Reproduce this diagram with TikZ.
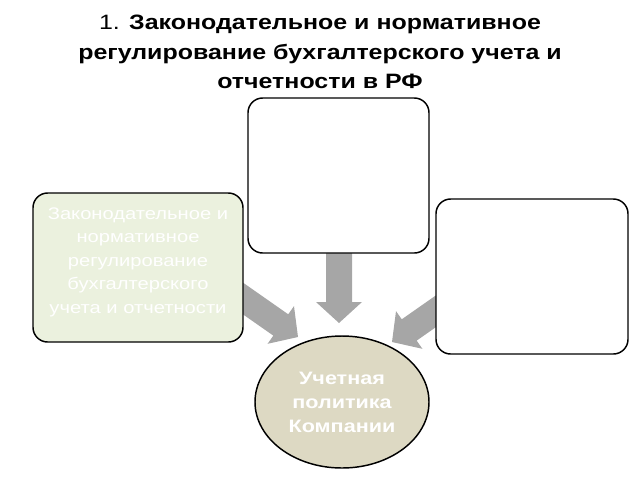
\documentclass[tikz,border=0pt]{standalone}
\usepackage{fontspec}
\setmainfont{Liberation Sans}[FakeStretch=1.2]
\usetikzlibrary{calc,shapes.geometric}
\definecolor{arrowgrey}{HTML}{A6A6A6}
\definecolor{greenfill}{HTML}{EBF1DE}
\definecolor{beige}{HTML}{DDD9C3}
\tikzset{
  box/.style={draw=black, line width=1.1pt, rounded corners=11pt},
  boxtext/.style={align=center, text=white, font=\fontsize{12.6pt}{17.6pt}\selectfont},
  titletext/.style={align=center, font=\fontsize{15.6pt}{22pt}\selectfont\bfseries},
}
\newcommand\blockarr[2]{%
  \coordinate (hb) at ($(#2)!15.75pt!(#1)$);
  \fill[arrowgrey] (#2) -- ($(hb)!17.25pt!90:(#2)$) -- ($(hb)!9.75pt!90:(#2)$)
     -- ($(#1)!9.75pt!90:(hb)$) -- ($(#1)!9.75pt!-90:(hb)$)
     -- ($(hb)!9.75pt!-90:(#2)$) -- ($(hb)!17.25pt!-90:(#2)$) -- cycle;}
\begin{document}
\begin{tikzpicture}[x=0.75pt,y=-0.75pt]
\useasboundingbox (0,0) rectangle (640,480);
% title
\node[titletext] (title) at (320,52) {{\mdseries 1.} Законодательное и нормативное\\регулирование бухгалтерского учета и\\отчетности в РФ};
% arrow coordinates
\coordinate (ltail) at (208,274);
\coordinate (ltip) at (298,337);
\coordinate (mtail) at (339,240);
\coordinate (mtip) at (339,323);
\coordinate (rtail) at (482,279);
\coordinate (rtip) at (392,342);
\blockarr{ltail}{ltip}
\blockarr{mtail}{mtip}
\blockarr{rtail}{rtip}
% boxes
\draw[box, fill=white] (248,98) rectangle (429,253);
\node (topbox) at (338.5,175.5) {};
\draw[box, fill=greenfill] (33,193) rectangle (243,342);
\node[boxtext] (leftbox) at (138,262) {Законодательное и\\нормативное\\регулирование\\бухгалтерского\\учета и отчетности};
\draw[box, fill=white] (436,199) rectangle (628,354);
\node (rightbox) at (532,276.5) {};
% ellipse
\node[ellipse, draw=black, line width=1.1pt, fill=beige, minimum width=130.5pt, minimum height=99pt, inner sep=0pt,
  align=center, text=white, font=\fontsize{13.5pt}{18pt}\selectfont\bfseries] (pol) at (342,402) {Учетная\\политика\\Компании};
\end{tikzpicture}
\end{document}
